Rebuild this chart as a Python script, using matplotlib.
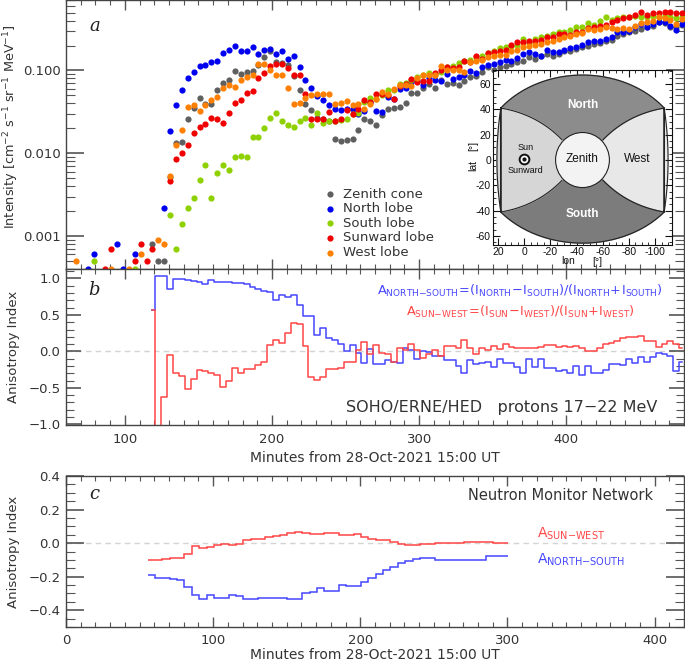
import numpy as np
import matplotlib.pyplot as plt
from matplotlib.patches import Ellipse
from matplotlib.ticker import MultipleLocator, FixedLocator, FuncFormatter, LogLocator, NullFormatter

nan = np.nan

# ---- panel a: SOHO/ERNE/HED lobe intensities (log10), 4-min bins ----
t_erne = 66.75 + 4.0 * np.arange(104)   # bin centres, minutes from 15:00 UT

log_zenith = [nan, nan, nan, nan, nan, nan, nan, nan, nan, nan,
              nan, nan, nan, -3.10, -3.30, -3.30, -2.29, -1.88, -1.87, -1.59,
              -1.45, -1.33, -1.40, -1.40, -1.23, -1.15, -1.11, -1.01, -1.04, -1.02,
              -1.01, -0.93, -0.84, -0.76, -0.90, -0.91, -0.93, -1.07, -1.23, -1.40,
              -1.48, -1.58, -1.59, -1.61, -1.83, -1.85, -1.84, -1.83, -1.72, -1.59,
              -1.61, -1.66, -1.54, -1.46, -1.45, -1.44, -1.39, -1.27, -1.27, -1.21,
              -1.16, -1.21, -1.12, -1.16, -1.15, -1.18, -1.13, -1.08, -1.07, -1.02,
              -0.96, -0.99, -0.96, -0.95, -0.92, -0.90, -0.88, -0.84, -0.86, -0.83,
              -0.80, -0.82, -0.80, -0.77, -0.76, -0.74, -0.72, -0.70, -0.68, -0.67,
              -0.65, -0.63, -0.58, -0.56, -0.54, -0.52, -0.50, -0.48, -0.46, -0.42,
              -0.43, -0.48, -0.47, -0.45]
log_north = [nan, nan, -3.40, -3.22, nan, nan, nan, -3.10, -3.40, nan,
             -3.22, nan, nan, nan, nan, -2.66, -1.73, -1.42, -1.23, -1.09,
             -1.02, -0.95, -0.93, -0.90, -0.88, -0.79, -0.75, -0.71, -0.77, -0.76,
             -0.72, -0.80, -0.75, -0.74, -0.80, -0.77, -0.86, -0.83, -0.96, -1.11,
             -1.21, -1.31, -1.36, -1.42, -1.47, -1.48, -1.47, -1.46, -1.53, -1.49,
             -1.38, -1.49, -1.50, -1.32, -1.35, -1.22, -1.21, -1.14, -1.13, -1.17,
             -1.09, -1.11, -1.13, -1.04, -1.10, -1.08, -1.05, -1.01, -1.03, -0.96,
             -0.93, -0.92, -0.90, -0.87, -0.89, -0.85, -0.80, -0.78, -0.80, -0.82,
             -0.75, -0.78, -0.78, -0.75, -0.73, -0.72, -0.69, -0.66, -0.65, -0.65,
             -0.62, -0.60, -0.54, -0.54, -0.52, -0.48, -0.44, -0.48, -0.44, -0.42,
             -0.41, -0.46, -0.51, -0.44]
log_south = [nan, nan, nan, -3.30, nan, nan, nan, nan, nan, nan,
             -3.40, nan, nan, nan, nan, nan, -2.75, -3.16, -2.86, -2.66,
             -2.54, -2.32, -2.14, -2.54, -2.24, -2.14, -2.20, -2.04, -2.03, -2.05,
             -1.80, -1.80, -1.69, -1.58, -1.51, -1.61, -1.66, -1.68, -1.61, -1.57,
             -1.66, -1.51, -1.64, -1.61, -1.61, -1.60, -1.59, -1.52, -1.51, -1.38,
             -1.33, -1.35, -1.30, -1.24, -1.23, -1.16, -1.15, -1.12, -1.08, -1.06,
             -1.03, -1.05, -1.02, -0.96, -0.94, -0.91, -0.89, -0.87, -0.84, -0.83,
             -0.79, -0.76, -0.73, -0.72, -0.70, -0.69, -0.62, -0.67, -0.62, -0.60,
             -0.58, -0.56, -0.54, -0.54, -0.51, -0.48, -0.47, -0.43, -0.45, -0.40,
             -0.36, -0.39, -0.37, -0.36, -0.35, -0.34, -0.36, -0.35, -0.34, -0.35,
             -0.34, -0.35, -0.37, -0.36]
log_sunward = [nan, nan, nan, nan, nan, -3.40, -3.16, nan, nan, nan,
               -3.30, -3.10, -3.30, -3.16, nan, nan, -2.33, -2.07, -2.00, -1.90,
               -1.75, -1.68, -1.65, -1.58, -1.59, -1.64, -1.51, -1.39, -1.36, -1.27,
               -1.25, -1.09, -1.03, -0.94, -0.92, -0.92, -0.97, -1.06, -1.05, -1.28,
               -1.59, -1.59, -1.59, -1.50, -1.61, -1.59, -1.48, -1.52, -1.46, -1.36,
               -1.38, -1.28, -1.28, -1.30, -1.34, -1.19, -1.16, -1.10, -1.14, -1.13,
               -1.13, -1.03, -1.00, -0.96, -0.97, -0.96, -0.89, -0.90, -0.83, -0.86,
               -0.79, -0.78, -0.76, -0.75, -0.69, -0.66, -0.66, -0.64, -0.64, -0.63,
               -0.60, -0.60, -0.56, -0.56, -0.57, -0.54, -0.53, -0.49, -0.48, -0.46,
               -0.45, -0.42, -0.39, -0.37, -0.35, -0.33, -0.29, -0.33, -0.31, -0.30,
               -0.29, -0.29, -0.31, -0.31]
log_west = [-3.30, nan, nan, nan, nan, nan, -3.40, nan, nan, -3.40,
            nan, -3.22, nan, nan, -3.05, -3.10, -2.28, -1.90, -1.72, -1.44,
            -1.42, -1.49, -1.42, -1.36, -1.32, -1.21, -1.17, -1.20, -1.11, -1.08,
            -1.06, -0.92, -0.92, -1.00, -1.05, -1.05, -1.21, -1.40, -1.39, -1.33,
            -1.30, -1.28, -1.28, -1.29, -1.41, -1.39, -1.37, -1.42, -1.40, -1.47,
            -1.40, -1.35, -1.26, -1.29, -1.22, -1.18, -1.18, -1.19, -1.09, -1.05,
            -1.05, -1.05, -0.95, -1.00, -0.99, -0.99, -1.02, -0.90, -0.89, -0.87,
            -0.84, -0.83, -0.81, -0.81, -0.77, -0.75, -0.72, -0.70, -0.69, -0.68,
            -0.66, -0.65, -0.62, -0.60, -0.58, -0.56, -0.55, -0.50, -0.51, -0.50,
            -0.48, -0.49, -0.50, -0.49, -0.50, -0.46, -0.43, -0.42, -0.40, -0.35,
            -0.37, -0.39, -0.44, -0.38]

lobe_names = ['Zenith cone', 'North lobe', 'South lobe', 'Sunward lobe', 'West lobe']
lobe_logs = [log_zenith, log_north, log_south, log_sunward, log_west]
lobe_colors = ['#5f5f5f', '#0000f0', '#8ed000', '#f00000', '#ff8000']

# ---- panel b: ERNE anisotropy indices (bins k = 13 .. 103) ----
t_aniso = t_erne[13:]
a_ns_erne = [0.57, 1.03, 1.03, 0.86, 0.99, 0.99, 0.98, 0.97, 0.95, 0.92,
             0.98, 0.955, 0.955, 0.95, 0.935, 0.935, 0.92, 0.88, 0.85, 0.83,
             0.81, 0.70, 0.77, 0.75, 0.78, 0.63, 0.49, 0.49, 0.23, 0.32,
             0.19, 0.16, 0.10, 0.01, 0.09, -0.02, -0.16, 0.03, -0.18, -0.18,
             -0.12, -0.15, -0.16, 0.04, 0.02, -0.11, 0.0, -0.01, -0.07, -0.07,
             -0.12, -0.12, -0.20, -0.29, -0.12, -0.17, -0.16, -0.15, -0.21, -0.10,
             -0.16, -0.16, -0.22, -0.29, -0.10, -0.21, -0.10, -0.23, -0.23, -0.27,
             -0.26, -0.29, -0.20, -0.32, -0.20, -0.30, -0.30, -0.25, -0.18, -0.17,
             -0.19, -0.11, -0.16, -0.08, -0.14, -0.08, -0.02, -0.03, -0.07, -0.27,
             -0.15]
a_sw_erne = [0.57, -1.2, -0.63, -0.05, -0.29, -0.34, -0.51, -0.38, -0.25, -0.27,
             -0.29, -0.33, -0.49, -0.41, -0.23, -0.30, -0.24, -0.24, -0.19, -0.14,
             0.09, 0.16, 0.12, 0.25, 0.39, 0.38, 0.08, -0.35, -0.39, -0.35,
             -0.24, -0.24, -0.23, -0.14, -0.14, 0.02, 0.13, -0.04, 0.09, -0.02,
             -0.04, -0.15, 0.04, 0.02, 0.10, 0.02, -0.09, -0.03, 0.02, -0.06,
             0.07, 0.08, 0.045, 0.15, 0.045, -0.04, 0.045, 0.02, 0.07, 0.03,
             0.10, 0.06, 0.04, 0.045, 0.04, 0.045, 0.06, 0.09, 0.09, 0.06,
             0.07, 0.06, 0.07, 0.045, 0.0, 0.0, 0.045, 0.10, 0.12, 0.14,
             0.18, 0.20, 0.20, 0.21, 0.14, 0.14, 0.06, 0.10, 0.14, 0.10,
             0.045]

# ---- panel c: neutron monitor network, 5-min bins ----
nm_edges = 55.5 + 5.0 * np.arange(50)
a_sw_nm = [-0.100, -0.098, -0.094, -0.090, -0.088, -0.063, -0.020, -0.029, -0.024, -0.012,
           -0.004, -0.010, -0.004, 0.020, 0.023, 0.027, 0.035, 0.045, 0.049, 0.059,
           0.069, 0.059, 0.055, 0.053, 0.059, 0.059, 0.049, 0.049, 0.053, 0.039,
           0.023, 0.020, 0.016, 0.004, -0.004, -0.010, -0.010, -0.006, -0.006, 0.0,
           0.0, 0.0, 0.0, 0.008, 0.008, 0.008, 0.004, 0.002, 0.002]
a_ns_nm = [-0.19, -0.205, -0.21, -0.215, -0.22, -0.26, -0.31, -0.335, -0.31, -0.325,
           -0.325, -0.31, -0.315, -0.335, -0.335, -0.325, -0.33, -0.33, -0.33, -0.335,
           -0.335, -0.295, -0.29, -0.265, -0.285, -0.285, -0.25, -0.255, -0.255, -0.23,
           -0.205, -0.185, -0.16, -0.14, -0.12, -0.105, -0.095, -0.09, -0.09, -0.10,
           -0.10, -0.10, -0.10, -0.10, -0.10, -0.10, -0.075, -0.075, -0.075]

# ---- inset sky map geometry (lon/lat, degrees) ----
sky_lon0 = -44.5          # longitude of zenith direction
corner = (62.5, 41.0)     # lobe corner, offset from sky_lon0
top_lat, bottom_lat = 67.0, -65.5
side_u = 65.5
junction = (15.7, 16.0)   # where lobe borders meet zenith circle
border_ctrl = (34.5, 36.0)
zenith_r = (20.6, 21.7)

BLUE_LINE = '#4646ff'
RED_LINE = '#ff4646'
TXT = '#333333'

plt.rcParams['font.family'] = 'DejaVu Sans'
plt.rcParams['axes.edgecolor'] = '#444444'
plt.rcParams['text.color'] = TXT
plt.rcParams['mathtext.default'] = 'regular'

fig = plt.figure(figsize=(6.85, 6.64), dpi=100)
W, H = 685.0, 664.0
ax_a = fig.add_axes([66 / W, 1 - 269 / H, 618 / W, 268.5 / H])
ax_b = fig.add_axes([66 / W, 1 - 425 / H, 618 / W, 156 / H])
ax_c = fig.add_axes([66 / W, 1 - 627 / H, 618 / W, 151 / H])


def style(ax, ymaj, ymin):
    ax.tick_params(which='both', direction='in', top=True, right=True,
                   colors='#555555', labelcolor=TXT, labelsize=9.5)
    ax.tick_params(axis='x', which='major', length=7, width=1, pad=6)
    ax.tick_params(axis='x', which='minor', length=3.5, width=0.8)
    ax.tick_params(axis='y', which='major', length=ymaj, width=1.2, pad=4)
    ax.tick_params(axis='y', which='minor', length=ymin, width=0.8)
    for s in ax.spines.values():
        s.set_linewidth(1.0)


# ---------------- panel a ----------------
for name, vals, col in zip(lobe_names, lobe_logs, lobe_colors):
    ax_a.scatter(t_erne, 10 ** np.array(vals), s=20, color=col, label=name,
                 linewidths=0, clip_on=False, zorder=3)
ax_a.set_yscale('log')
ax_a.set_xlim(60, 480)
ax_a.set_ylim(4e-4, 0.7)
style(ax_a, 13, 6.5)
ax_a.xaxis.set_major_locator(MultipleLocator(100))
ax_a.xaxis.set_minor_locator(MultipleLocator(10))
ax_a.set_xticklabels([])
ax_a.yaxis.set_major_locator(FixedLocator([1e-3, 1e-2, 1e-1]))
ax_a.yaxis.set_minor_locator(LogLocator(subs=np.arange(2, 10)))
ax_a.yaxis.set_minor_formatter(NullFormatter())
ax_a.yaxis.set_major_formatter(FuncFormatter(lambda v, p: f'{v:.3f}'))
ax_a.set_ylabel(r'Intensity [cm$^{-2}$ s$^{-1}$ sr$^{-1}$ MeV$^{-1}$]', fontsize=9.3, color=TXT)
ax_a.yaxis.set_label_coords(-0.073, 0.53)
ax_a.text(0.047, 0.905, 'a', transform=ax_a.transAxes, fontsize=13,
          family='DejaVu Serif', style='italic', ha='center', va='center', color='#222222')
leg = ax_a.legend(loc='upper left', bbox_to_anchor=(0.418, 0.303), frameon=False,
                  fontsize=9.5, handlelength=0.8, handletextpad=0.6, labelspacing=0.12,
                  borderpad=0, borderaxespad=0, scatterpoints=1)
for tx in leg.get_texts():
    tx.set_color(TXT)

# ---------------- panel b ----------------
ax_b.axhline(0, color='#d4d4d4', lw=1.0, dashes=(4, 3), zorder=1)
ax_b.plot(t_aniso, a_ns_erne, drawstyle='steps-mid', color=BLUE_LINE, lw=1.1)
ax_b.plot(t_aniso, a_sw_erne, drawstyle='steps-mid', color=RED_LINE, lw=1.1)
ax_b.set_xlim(60, 480)
ax_b.set_ylim(-1.01, 1.13)
style(ax_b, 11, 5.5)
ax_b.xaxis.set_major_locator(MultipleLocator(100))
ax_b.xaxis.set_minor_locator(MultipleLocator(10))
ax_b.yaxis.set_major_locator(MultipleLocator(0.5))
ax_b.yaxis.set_minor_locator(MultipleLocator(0.1))
ax_b.yaxis.set_major_formatter(FuncFormatter(lambda v, p: f'{v:.1f}'.replace('-', '\u2212')))
ax_b.set_xlabel('Minutes from 28-Oct-2021 15:00 UT', fontsize=10, color=TXT, labelpad=3)
ax_b.set_ylabel('Anisotropy Index', fontsize=9.5, color=TXT)
ax_b.yaxis.set_label_coords(-0.074, 0.5)
ax_b.text(0.046, 0.865, 'b', transform=ax_b.transAxes, fontsize=13,
          family='DejaVu Serif', style='italic', ha='center', va='center', color='#222222')
ax_b.text(0.735, 0.862,
          r'$A_{NORTH{-}SOUTH}\!=\!(I_{NORTH}\!-\!I_{SOUTH})/(I_{NORTH}\!+\!I_{SOUTH})$',
          transform=ax_b.transAxes, color=BLUE_LINE, fontsize=9.3, ha='center', va='center')
ax_b.text(0.735, 0.722,
          r'$A_{SUN{-}WEST}\!=\!(I_{SUN}\!-\!I_{WEST})/(I_{SUN}\!+\!I_{WEST})$',
          transform=ax_b.transAxes, color=RED_LINE, fontsize=9.3, ha='center', va='center')
ax_b.text(0.705, 0.11, 'SOHO/ERNE/HED   protons 17\u221222 MeV', transform=ax_b.transAxes,
          fontsize=11.5, ha='center', va='center', color=TXT)

# ---------------- panel c ----------------
ax_c.axhline(0, color='#d4d4d4', lw=1.0, dashes=(4, 3), zorder=1)
ax_c.stairs(a_sw_nm, nm_edges, color=RED_LINE, lw=1.1, baseline=None)
ax_c.stairs(a_ns_nm, nm_edges, color=BLUE_LINE, lw=1.1, baseline=None)
ax_c.set_xlim(0, 420)
ax_c.set_ylim(-0.5, 0.4)
style(ax_c, 13, 6.5)
ax_c.tick_params(axis='x', which='major', pad=5)
ax_c.xaxis.set_major_locator(MultipleLocator(100))
ax_c.xaxis.set_minor_locator(MultipleLocator(10))
ax_c.yaxis.set_major_locator(MultipleLocator(0.2))
ax_c.yaxis.set_minor_locator(MultipleLocator(0.05))
ax_c.yaxis.set_major_formatter(FuncFormatter(lambda v, p: f'{v:.1f}'.replace('-', '\u2212')))
ax_c.set_xlabel('Minutes from 28-Oct-2021 15:00 UT', fontsize=10, color=TXT, labelpad=1)
ax_c.set_ylabel('Anisotropy Index', fontsize=9.5, color=TXT)
ax_c.yaxis.set_label_coords(-0.074, 0.5)
ax_c.text(0.045, 0.88, 'c', transform=ax_c.transAxes, fontsize=13,
          family='DejaVu Serif', style='italic', ha='center', va='center', color='#222222')
ax_c.text(0.80, 0.868, 'Neutron Monitor Network', transform=ax_c.transAxes,
          fontsize=10.5, ha='center', va='center', color=TXT)
ax_c.text(320, 0.03, r'$A_{SUN{-}WEST}$', color=RED_LINE, fontsize=10, va='baseline')
ax_c.text(320, -0.125, r'$A_{NORTH{-}SOUTH}$', color=BLUE_LINE, fontsize=10, va='baseline')

# ---------------- inset sky map ----------------
ax_i = fig.add_axes([493 / W, 1 - 245 / H, 179 / W, 175 / H])
ax_i.set_facecolor('white')


def lon(u):
    return sky_lon0 + np.asarray(u)


cu, cl = corner
th0 = np.arcsin(cl / top_lat)
a_top = cu / np.cos(th0)
th = np.linspace(th0, np.pi - th0, 60)
top_u, top_l = a_top * np.cos(th), top_lat * np.sin(th)
tb0 = np.arcsin(cl / -bottom_lat)
a_bot = cu / np.cos(tb0)
tb = np.linspace(np.pi + tb0, 2 * np.pi - tb0, 60)
bot_u, bot_l = a_bot * np.cos(tb), -bottom_lat * np.sin(tb)
b_side = cl / np.sqrt(1 - (cu / side_u) ** 2)
ph0 = np.arcsin(cl / b_side)
ph = np.linspace(ph0, -ph0, 40)
left_u, left_l = side_u * np.cos(ph), b_side * np.sin(ph)
right_u, right_l = -left_u[::-1], left_l[::-1]


def border(su, sl):
    s = np.linspace(0, 1, 30)[:, None]
    p0 = np.array([su * cu, sl * cl])
    pc = np.array([su * border_ctrl[0], sl * border_ctrl[1]])
    p2 = np.array([su * junction[0], sl * junction[1]])
    pts = (1 - s) ** 2 * p0 + 2 * (1 - s) * s * pc + s ** 2 * p2
    return pts[:, 0], pts[:, 1]


nw, ne, sw, se = border(1, 1), border(-1, 1), border(1, -1), border(-1, -1)

# outline (top, right side, bottom, left side)
out_u = np.concatenate([top_u, right_u, bot_u, left_u])
out_l = np.concatenate([top_l, right_l, bot_l, left_l])
ax_i.fill(lon(out_u), out_l, color='#e8e8e8', zorder=1)

north_u = np.concatenate([top_u, ne[0], [0], nw[0][::-1]])
north_l = np.concatenate([top_l, ne[1], [0], nw[1][::-1]])
ax_i.fill(lon(north_u), north_l, color='#8c8c8c', zorder=2)
south_u = np.concatenate([bot_u, sw[0], [0], se[0][::-1]])
south_l = np.concatenate([bot_l, sw[1], [0], se[1][::-1]])
ax_i.fill(lon(south_u), south_l, color='#7c7c7c', zorder=2)
sun_u = np.concatenate([left_u, sw[0], [0], nw[0][::-1]])
sun_l = np.concatenate([left_l, sw[1], [0], nw[1][::-1]])
ax_i.fill(lon(sun_u), sun_l, color='#d6d6d6', zorder=2)

ax_i.plot(lon(np.append(out_u, out_u[0])), np.append(out_l, out_l[0]), color='#222222', lw=0.8, zorder=3)
for bu, bl in (nw, ne, sw, se):
    ax_i.plot(lon(bu), bl, color='#222222', lw=0.8, zorder=3)
ax_i.add_patch(Ellipse((sky_lon0, 0), 2 * zenith_r[0], 2 * zenith_r[1],
                       facecolor='#f3f3f3', edgecolor='#222222', lw=0.8, zorder=4))

ifont = 'Liberation Sans'
ax_i.text(sky_lon0, 43.5, 'North', family=ifont, weight='bold', color='white',
          fontsize=8.5, ha='center', va='center', zorder=5)
ax_i.text(sky_lon0, -42.3, 'South', family=ifont, weight='bold', color='white',
          fontsize=8.5, ha='center', va='center', zorder=5)
ax_i.text(sky_lon0, 0.8, 'Zenith', family=ifont, color='#111111',
          fontsize=8.5, ha='center', va='center', zorder=5)
ax_i.text(-86.5, 1.0, 'West', family=ifont, color='#111111',
          fontsize=8.5, ha='center', va='center', zorder=5)
ax_i.text(-0.8, 10, 'Sun', family=ifont, color='#111111',
          fontsize=6.5, ha='center', va='center', zorder=5)
ax_i.text(-0.8, -8.5, 'Sunward', family=ifont, color='#111111',
          fontsize=6.5, ha='center', va='center', zorder=5)
ax_i.plot([0.5], [0.8], marker='o', ms=7, mfc='white', mec='#111111', mew=1.4, zorder=5)
ax_i.plot([0.5], [0.8], marker='o', ms=2, mfc='#111111', mec='#111111', zorder=6)

ax_i.set_xlim(24, -113)
ax_i.set_ylim(-67, 71)
ax_i.xaxis.set_major_locator(MultipleLocator(20))
ax_i.xaxis.set_minor_locator(MultipleLocator(5))
ax_i.yaxis.set_major_locator(MultipleLocator(20))
ax_i.yaxis.set_minor_locator(MultipleLocator(5))
fmt_int = FuncFormatter(lambda v, p: f'{v:.0f}')
ax_i.xaxis.set_major_formatter(fmt_int)
ax_i.yaxis.set_major_formatter(fmt_int)
ax_i.tick_params(which='both', direction='in', top=True, right=True, colors='#111111',
                 labelsize=7.5, pad=1.5)
ax_i.tick_params(which='major', length=5, width=0.8)
ax_i.tick_params(which='minor', length=2.5, width=0.6)
for tl in ax_i.get_xticklabels() + ax_i.get_yticklabels():
    tl.set_family(ifont)
for s in ax_i.spines.values():
    s.set_color('#111111')
    s.set_linewidth(0.8)
ax_i.text(-0.112, 0.457, 'lat', transform=ax_i.transAxes, rotation=90, family=ifont,
          fontsize=7.5, ha='center', va='center', color='#111111')
ax_i.text(-0.112, 0.565, '[\u00b0]', transform=ax_i.transAxes, rotation=90, family=ifont,
          fontsize=7.5, ha='center', va='center', color='#111111')
ax_i.text(0.42, -0.09, 'lon', transform=ax_i.transAxes, family=ifont,
          fontsize=7.5, ha='center', va='center', color='#111111')
ax_i.text(0.58, -0.095, '[\u00b0]', transform=ax_i.transAxes, family=ifont,
          fontsize=7.5, ha='center', va='center', color='#111111')

fig.savefig('out.png', dpi=100)
